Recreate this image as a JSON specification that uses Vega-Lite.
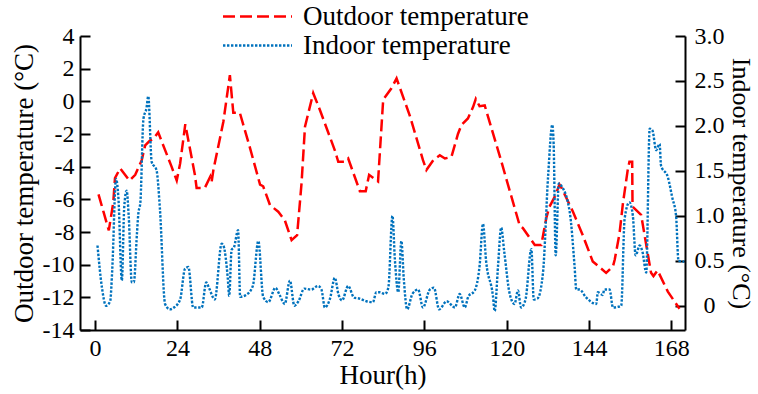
{
  "$schema": "https://vega.github.io/schema/vega-lite/v6.json",
  "width": 605,
  "height": 294,
  "autosize": {"type": "none"},
  "padding": {"left": 80, "top": 36, "right": 73, "bottom": 64},
  "background": "white",
  "config": {
    "font": "Liberation Serif",
    "view": {"stroke": null},
    "axis": {
      "domainColor": "black", "tickColor": "black", "domainWidth": 2, "tickWidth": 2,
      "labelColor": "black", "titleColor": "black", "labelFontSize": 24, "titleFontSize": 27,
      "titleFontWeight": "normal", "grid": false, "labelFont": "Liberation Serif", "titleFont": "Liberation Serif",
      "tickSize": -10
    },
    "legend": {
      "orient": "none", "legendX": 164, "legendY": -33, "title": null, "symbolType": "M-3,0H3",
      "symbolSize": 529, "symbolStrokeWidth": 2.5, "labelFontSize": 27, "labelFont": "Liberation Serif",
      "labelColor": "black", "rowPadding": 1, "labelOffset": 32, "padding": 0, "labelLimit": 500
    }
  },
  "datasets": {
    "outdoor": [
      {"h":1,"t":-5.7},{"h":2.5,"t":-6.8},{"h":4,"t":-7.9},{"h":5.3,"t":-6.2},{"h":5.8,"t":-4.7},{"h":7.3,"t":-4.1},{"h":10,"t":-4.85},{"h":11.7,"t":-4.5},{"h":13.6,"t":-3.6},{"h":14.6,"t":-2.7},{"h":16,"t":-2.4},{"h":17,"t":-2.3},{"h":18.4,"t":-1.9},{"h":22.3,"t":-4},{"h":23.8,"t":-4.85},{"h":24.8,"t":-3.8},{"h":26.3,"t":-1.4},{"h":29.1,"t":-4.5},{"h":29.6,"t":-5.3},{"h":32,"t":-5.3},{"h":33.6,"t":-4.6},{"h":34,"t":-4.9},{"h":34.5,"t":-4.2},{"h":37.4,"t":-1.25},{"h":39.3,"t":1.6},{"h":40.3,"t":-0.7},{"h":42.2,"t":-0.7},{"h":45.1,"t":-2.8},{"h":48.1,"t":-5.1},{"h":49,"t":-5.2},{"h":51,"t":-6.35},{"h":53.4,"t":-6.76},{"h":55.3,"t":-7.27},{"h":57.3,"t":-8.5},{"h":58.9,"t":-8.2},{"h":60.2,"t":-5.0},{"h":61.2,"t":-1.55},{"h":63.6,"t":0.5},{"h":65.5,"t":-0.5},{"h":69.9,"t":-3.0},{"h":70.9,"t":-3.7},{"h":72.8,"t":-3.7},{"h":73.8,"t":-3.5},{"h":77.2,"t":-5.5},{"h":78.9,"t":-5.5},{"h":79.9,"t":-4.5},{"h":82.5,"t":-4.9},{"h":84,"t":0.1},{"h":86.4,"t":0.8},{"h":87.9,"t":1.4},{"h":91.8,"t":-0.9},{"h":95.6,"t":-3.6},{"h":96.6,"t":-4.2},{"h":98.6,"t":-3.6},{"h":100.5,"t":-3.3},{"h":102,"t":-3.5},{"h":103.9,"t":-3.4},{"h":105.8,"t":-2.0},{"h":106.8,"t":-1.45},{"h":108.7,"t":-1.05},{"h":110.2,"t":-0.35},{"h":111,"t":0.15},{"h":112.1,"t":-0.3},{"h":113.6,"t":-0.25},{"h":118.2,"t":-3.5},{"h":123.8,"t":-7.6},{"h":124.7,"t":-7.75},{"h":128.2,"t":-8.8},{"h":130.1,"t":-8.8},{"h":131.6,"t":-7.1},{"h":132.5,"t":-6.45},{"h":134,"t":-5.85},{"h":135.4,"t":-5.1},{"h":136,"t":-5.3},{"h":139.3,"t":-6.75},{"h":142.2,"t":-8.2},{"h":145.1,"t":-9.8},{"h":149,"t":-10.5},{"h":151,"t":-10.1},{"h":151.5,"t":-9.7},{"h":152.9,"t":-8.1},{"h":153.9,"t":-6.25},{"h":155.3,"t":-4.2},{"h":155.8,"t":-3.7},{"h":156.6,"t":-3.7},{"h":156.7,"t":-6.45},{"h":159.2,"t":-6.95},{"h":162.1,"t":-10.5},{"h":162.8,"t":-10.7},{"h":164,"t":-10.35},{"h":167,"t":-11.65},{"h":170.4,"t":-12.7}
    ],
    "indoor": [
      {"h":0.7,"t":0.67},{"h":2,"t":0.2},{"h":3.2,"t":0.0},{"h":4.4,"t":0.05},{"h":5,"t":0.4},{"h":6.1,"t":1.41},{"h":6.8,"t":1.2},{"h":7.8,"t":0.28},{"h":8.5,"t":1.1},{"h":9.2,"t":1.28},{"h":9.8,"t":1.0},{"h":10.7,"t":0.26},{"h":11.3,"t":0.26},{"h":12.2,"t":0.8},{"h":12.6,"t":1.02},{"h":13.2,"t":1.15},{"h":14.1,"t":2.08},{"h":15,"t":2.2},{"h":15.5,"t":2.33},{"h":16.5,"t":1.6},{"h":17.9,"t":1.51},{"h":18.9,"t":1.08},{"h":20.4,"t":0.02},{"h":21.8,"t":-0.04},{"h":23,"t":-0.02},{"h":24.8,"t":0.07},{"h":26.2,"t":0.41},{"h":27.2,"t":0.43},{"h":28.6,"t":-0.02},{"h":31.1,"t":-0.02},{"h":32.4,"t":0.26},{"h":33.2,"t":0.2},{"h":34.9,"t":0.07},{"h":36.9,"t":0.69},{"h":37.5,"t":0.66},{"h":38.7,"t":0.3},{"h":39.1,"t":0.11},{"h":39.8,"t":0.62},{"h":40.5,"t":0.65},{"h":41.7,"t":0.84},{"h":42.3,"t":0.1},{"h":44,"t":0.12},{"h":46,"t":0.22},{"h":47.6,"t":0.72},{"h":49,"t":0.1},{"h":50.5,"t":0.04},{"h":52.6,"t":0.2},{"h":53.8,"t":0.12},{"h":55.3,"t":0.02},{"h":56.8,"t":0.28},{"h":58.1,"t":0.0},{"h":59.3,"t":0.05},{"h":61,"t":0.19},{"h":63,"t":0.18},{"h":65,"t":0.22},{"h":66,"t":0.18},{"h":67,"t":-0.02},{"h":68.5,"t":0.08},{"h":69.9,"t":0.31},{"h":71,"t":0.12},{"h":72,"t":0.06},{"h":73.8,"t":0.22},{"h":75.5,"t":0.09},{"h":77,"t":0.08},{"h":79.1,"t":0.05},{"h":81,"t":0.04},{"h":82,"t":0.15},{"h":83,"t":0.15},{"h":84.5,"t":0.13},{"h":85.5,"t":0.2},{"h":86.7,"t":1.0},{"h":87.4,"t":0.52},{"h":88.4,"t":0.15},{"h":89.3,"t":0.72},{"h":90,"t":0.3},{"h":91,"t":-0.04},{"h":92.5,"t":0.13},{"h":94.2,"t":0.18},{"h":95.6,"t":-0.02},{"h":97.6,"t":0.18},{"h":98.8,"t":0.2},{"h":100.3,"t":-0.04},{"h":102.5,"t":0.05},{"h":104.9,"t":-0.02},{"h":106.3,"t":0.13},{"h":107.8,"t":-0.02},{"h":108.8,"t":0.1},{"h":110.7,"t":0.17},{"h":112.1,"t":0.44},{"h":113.1,"t":0.91},{"h":114,"t":0.5},{"h":116,"t":0.11},{"h":116.5,"t":-0.06},{"h":117.5,"t":0.45},{"h":118.4,"t":0.87},{"h":119.3,"t":0.6},{"h":120.9,"t":0.13},{"h":122.3,"t":0.02},{"h":123.3,"t":0.17},{"h":124.2,"t":-0.02},{"h":125.5,"t":0.07},{"h":127.2,"t":0.63},{"h":127.9,"t":0.07},{"h":129,"t":0.08},{"h":130.6,"t":0.37},{"h":132.1,"t":1.45},{"h":133.3,"t":2.01},{"h":133.7,"t":1.8},{"h":134.3,"t":0.56},{"h":135.2,"t":1.36},{"h":136,"t":1.33},{"h":138.4,"t":1.04},{"h":139.8,"t":0.44},{"h":140.3,"t":0.18},{"h":141.3,"t":0.18},{"h":143,"t":0.1},{"h":146.1,"t":0.02},{"h":146.6,"t":0.15},{"h":148,"t":0.12},{"h":148.5,"t":0.18},{"h":150,"t":0.18},{"h":151,"t":-0.02},{"h":153.4,"t":0.0},{"h":154.4,"t":0.97},{"h":155.8,"t":1.15},{"h":156.8,"t":1.0},{"h":157.6,"t":0.56},{"h":158.8,"t":0.67},{"h":159.6,"t":0.6},{"h":160.7,"t":0.37},{"h":161.7,"t":1.97},{"h":162.5,"t":1.95},{"h":163.6,"t":1.73},{"h":164.6,"t":1.8},{"h":165,"t":1.56},{"h":167,"t":1.43},{"h":168.3,"t":1.2},{"h":169.4,"t":1.0},{"h":170.1,"t":0.5},{"h":171.8,"t":0.49}
    ]
  },
  "layer": [
    {
      "data": {"name": "outdoor"},
      "transform": [{"calculate": "'Outdoor temperature'", "as": "s"}],
      "mark": {"type": "line", "strokeWidth": 2.5},
      "encoding": {
        "x": {"field": "h", "type": "quantitative", "scale": {"domain": [-4.4, 172], "nice": false, "zero": false},
              "axis": {"values": [0,24,48,72,96,120,144,168], "title": "Hour(h)", "labelPadding": 16, "titlePadding": 2}},
        "y": {"field": "t", "type": "quantitative", "scale": {"domain": [-14, 4], "nice": false, "zero": false},
              "axis": {"orient": "left", "values": [-14,-12,-10,-8,-6,-4,-2,0,2,4], "labelExpr": "'' + datum.value",
                       "title": "Outdoor temperature (°C)", "labelPadding": 16, "titlePadding": 4}},
        "color": {"field": "s", "type": "nominal", "scale": {"domain": ["Outdoor temperature", "Indoor temperature"], "range": ["#ff0000", "#0072bd"]}},
        "strokeDash": {"field": "s", "type": "nominal", "scale": {"domain": ["Outdoor temperature", "Indoor temperature"], "range": [[12, 5], [2.4, 1.6]]}}
      }
    },
    {
      "data": {"name": "indoor"},
      "transform": [{"calculate": "'Indoor temperature'", "as": "s"}],
      "mark": {"type": "line", "strokeWidth": 2.4, "interpolate": "monotone"},
      "encoding": {
        "x": {"field": "h", "type": "quantitative"},
        "y": {"field": "t", "type": "quantitative", "scale": {"domain": [-0.27, 3.0], "nice": false, "zero": false},
              "axis": {"orient": "right", "values": [0,0.5,1,1.5,2,2.5,3], "labelExpr": "datum.value == 0 ? '0' : format(datum.value, '.1f')",
                       "labelAlign": "center", "labelPadding": 34, "title": "Indoor temperature (°C)", "titleFontSize": 26, "titlePadding": 3}},
        "color": {"field": "s", "type": "nominal"},
        "strokeDash": {"field": "s", "type": "nominal"}
      }
    }
  ],
  "resolve": {"scale": {"y": "independent"}}
}
